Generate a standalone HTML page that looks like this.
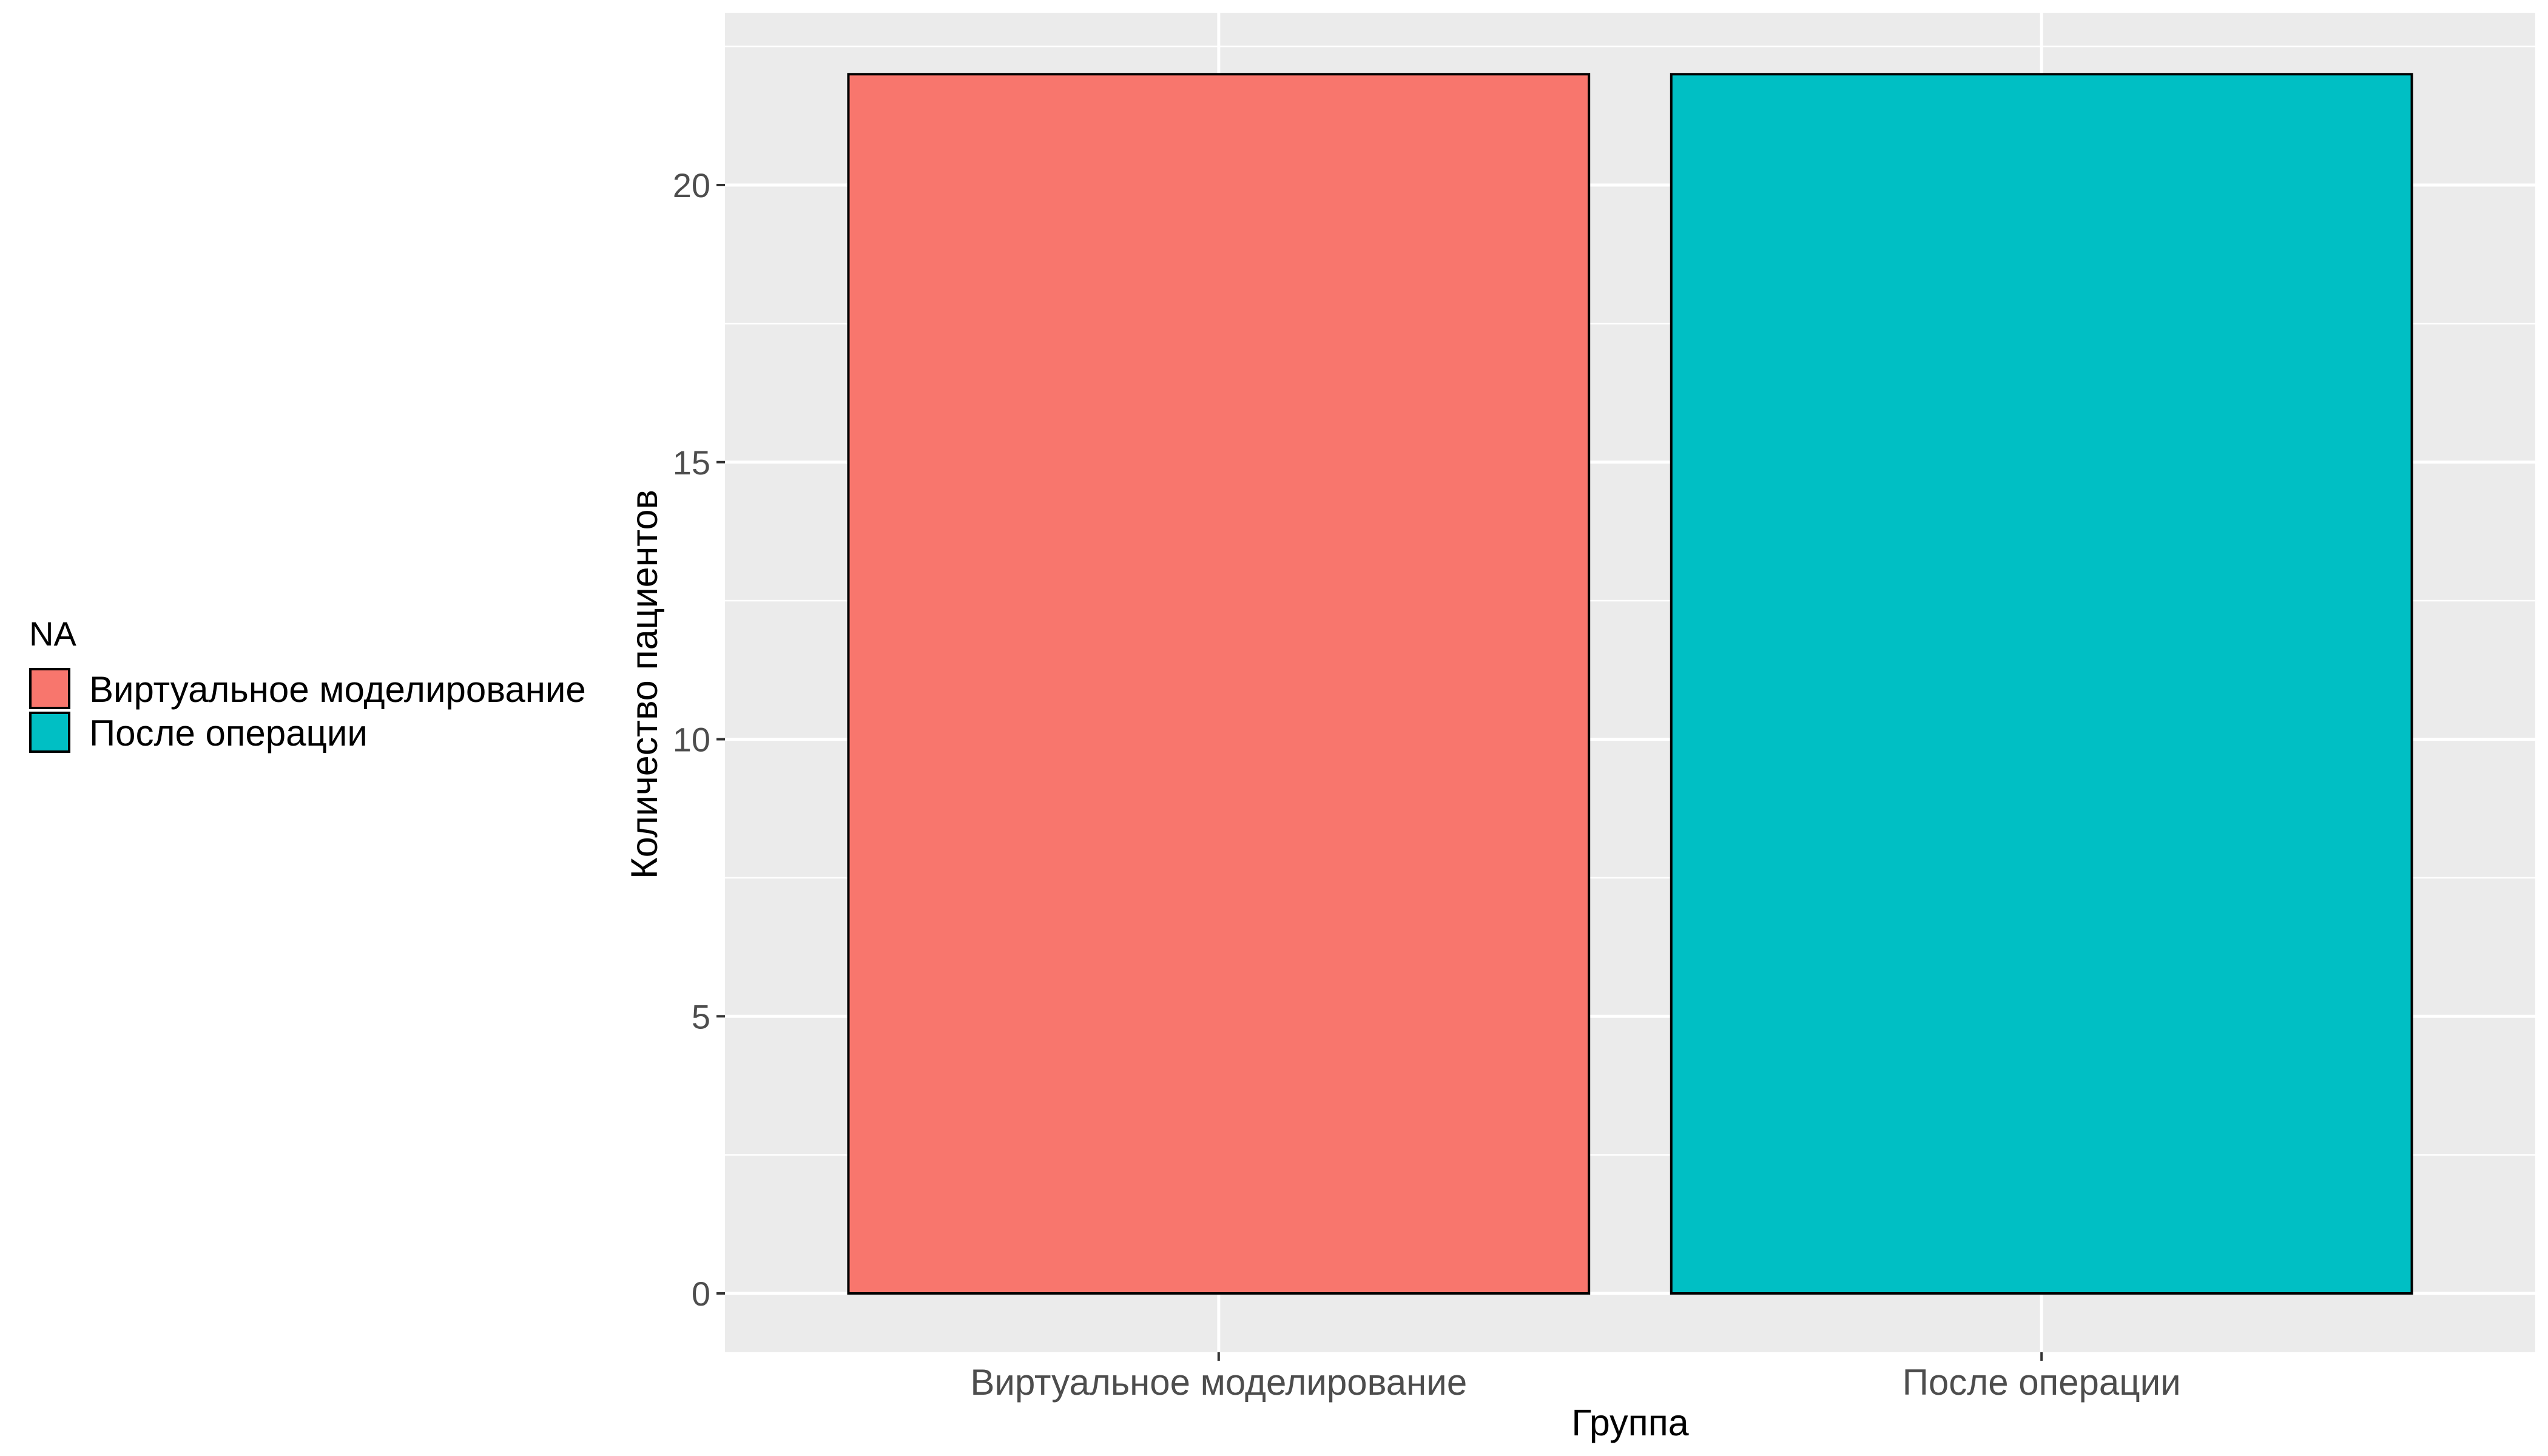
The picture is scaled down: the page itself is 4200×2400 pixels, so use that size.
<!DOCTYPE html>
<html><head><meta charset="utf-8"><style>
html,body{margin:0;padding:0;background:#fff;}
svg{display:block;font-family:"Liberation Sans","DejaVu Sans",sans-serif;}
</style></head><body>
<svg id="chart" width="4200" height="2400" viewBox="0 0 4200 2400">
<rect x="0" y="0" width="4200" height="2400" fill="#fff"/>
<g id="panel"></g>
<g id="axes"></g>
<text x="2687" y="2366" font-size="61" text-anchor="middle" fill="#000">Группа</text>
<text transform="translate(1083,1128) rotate(-90)" font-size="61" text-anchor="middle" fill="#000">Количество пациентов</text>
<g>
<text x="48" y="1064" font-size="56" fill="#000">NA</text>
<g>
<rect x="50" y="1103" width="64" height="64" fill="#F8766D" stroke="#000" stroke-width="4"/>
<text x="147" y="1157" font-size="60" fill="#000">Виртуальное моделирование</text>
</g>
<g>
<rect x="50" y="1175" width="64" height="64" fill="#00BFC4" stroke="#000" stroke-width="4"/>
<text x="147" y="1229" font-size="60" fill="#000">После операции</text>
</g>
</g>
</svg>
<script>
const categories = ["Виртуальное моделирование", "После операции"];
const values = [22, 22];
const colors = ["#F8766D", "#00BFC4"];
const yTicks = [0, 5, 10, 15, 20];
const yTickLabels = ["0", "5", "10", "15", "20"];

const NS = "http://www.w3.org/2000/svg";
const PL = 1195, PR = 4179, PT = 21, PB = 2229;
const y0 = 2132, y20 = 305;
function yScale(v){ return y0 + (y20 - y0) * v / 20; }
const xUnit = (PR - PL) / 2.2;
function xScale(i){ return PL + (0.6 + i) * xUnit; }

const panel = document.getElementById('panel');
const axes = document.getElementById('axes');
function mk(tag, attrs, parent){
  const e = document.createElementNS(NS, tag);
  for (const k in attrs) e.setAttribute(k, attrs[k]);
  parent.appendChild(e);
  return e;
}
const bg = mk('rect', {x:PL, y:PT, width:PR-PL, height:PB-PT, fill:'#EBEBEB'}, panel);


for (let i = 0; i < yTicks.length; i++) {
  const yy = yScale(yTicks[i] + 2.5);
  if (yy < PT) continue;
  const l = mk('line', {x1:PL, x2:PR, y1:yy, y2:yy, stroke:'#fff', 'stroke-width':2.5}, panel);
  
  
}
yTicks.forEach((t) => {
  const yy = yScale(t);
  const l = mk('line', {x1:PL, x2:PR, y1:yy, y2:yy, stroke:'#fff', 'stroke-width':5}, panel);
  
  
});
categories.forEach((c, i) => {
  const xx = xScale(i);
  const l = mk('line', {x1:xx, x2:xx, y1:PT, y2:PB, stroke:'#fff', 'stroke-width':5}, panel);
  
  
});
categories.forEach((c, i) => {
  const cx = xScale(i), w = 0.9 * xUnit;
  const top = yScale(values[i]), bot = yScale(0);
  const r = mk('rect', {x:cx - w/2, y:top, width:w, height:bot-top, fill:colors[i], stroke:'#000', 'stroke-width':4}, panel);
  
  
});
yTicks.forEach((t, i) => {
  const yy = yScale(t);
  const tk = mk('line', {x1:PL-14, x2:PL, y1:yy, y2:yy, stroke:'#333', 'stroke-width':4}, axes);
  
  
  const tx = mk('text', {x:PL-24, y:yy+20, 'font-size':56, 'text-anchor':'end', fill:'#4D4D4D'}, axes);
  tx.textContent = yTickLabels[i];
  
  
});
categories.forEach((c, i) => {
  const xx = xScale(i);
  const tk = mk('line', {x1:xx, x2:xx, y1:PB, y2:PB+14, stroke:'#333', 'stroke-width':4}, axes);
  
  
  const tx = mk('text', {x:xx, y:PB+70, 'font-size':60, 'text-anchor':'middle', fill:'#4D4D4D'}, axes);
  tx.textContent = c;
  
  
});
</script>
</body></html>
